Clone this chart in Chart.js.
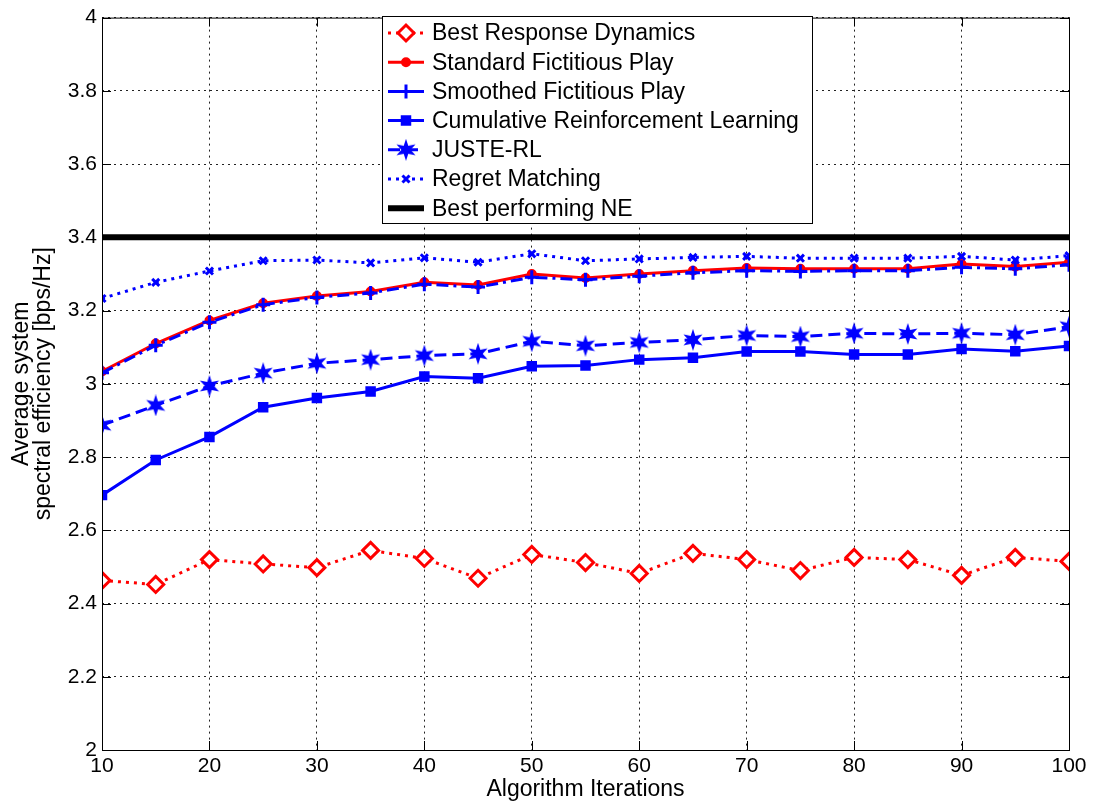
<!DOCTYPE html>
<html>
<head>
<meta charset="utf-8">
<script src="https://cdn.jsdelivr.net/npm/chart.js@4/dist/chart.umd.min.js"></script>
<style>
  body { margin: 0; background: #fff; }
  #wrap { width: 1094px; height: 805px; }
</style>
</head>
<body>
<div id="wrap"><canvas id="chart" width="1094" height="805"></canvas></div>
<script>
// datos
const iterations = [10, 15, 20, 25, 30, 35, 40, 45, 50, 55, 60, 65, 70, 75, 80, 85, 90, 95, 100];
const bestResponse = [2.463, 2.452, 2.52, 2.508, 2.498, 2.545, 2.523, 2.469, 2.534, 2.512, 2.482, 2.537, 2.52, 2.49, 2.526, 2.52, 2.477, 2.526, 2.515];
const standardFP = [3.034, 3.11, 3.173, 3.22, 3.24, 3.252, 3.277, 3.27, 3.3, 3.289, 3.3, 3.309, 3.316, 3.314, 3.314, 3.314, 3.327, 3.32, 3.332];
const smoothedFP = [3.03, 3.105, 3.168, 3.216, 3.236, 3.248, 3.272, 3.264, 3.291, 3.284, 3.294, 3.303, 3.309, 3.307, 3.309, 3.309, 3.318, 3.314, 3.325];
const cumulativeRL = [2.696, 2.792, 2.855, 2.936, 2.961, 2.979, 3.02, 3.015, 3.048, 3.05, 3.066, 3.071, 3.088, 3.088, 3.08, 3.08, 3.095, 3.089, 3.103];
const justeRL = [2.887, 2.941, 2.994, 3.029, 3.056, 3.066, 3.077, 3.082, 3.116, 3.104, 3.113, 3.12, 3.132, 3.129, 3.138, 3.136, 3.138, 3.134, 3.156];
const regretMatching = [3.233, 3.277, 3.308, 3.336, 3.338, 3.33, 3.344, 3.332, 3.355, 3.336, 3.341, 3.345, 3.348, 3.343, 3.343, 3.343, 3.348, 3.338, 3.35];
const bestNE = iterations.map(() => 3.4);
const xTicks = [10, 20, 30, 40, 50, 60, 70, 80, 90, 100];
const yTicks = [2, 2.2, 2.4, 2.6, 2.8, 3, 3.2, 3.4, 3.6, 3.8, 4];

const RED = "#ff0000";
const BLUE = "#0000ff";
const FONT = "'Liberation Sans', Arial, sans-serif";

// estrella de seis puntas (hexagram de MATLAB)
function hexagram(size, color) {
  const c = document.createElement("canvas");
  c.width = size;
  c.height = size;
  const g = c.getContext("2d");
  const cx = size / 2, cy = size / 2, ro = size / 2, ri = ro * 0.42;
  g.beginPath();
  for (let i = 0; i < 12; i++) {
    const a = -Math.PI / 2 + i * Math.PI / 6;
    const r = i % 2 === 0 ? ro : ri;
    const px = cx + r * Math.cos(a), py = cy + r * Math.sin(a);
    if (i === 0) g.moveTo(px, py); else g.lineTo(px, py);
  }
  g.closePath();
  g.fillStyle = color;
  g.fill();
  return c;
}
const starImg = hexagram(22, BLUE);

function serie(label, data, color, dash, style, radius, extra) {
  return Object.assign({
    label: label,
    data: iterations.map((x, i) => ({ x: x, y: data[i] })),
    borderColor: color,
    backgroundColor: color,
    borderWidth: 3,
    borderDash: dash,
    pointStyle: style,
    pointRadius: radius,
    pointBorderColor: color,
    pointBackgroundColor: color,
    pointBorderWidth: 2,
    tension: 0,
    fill: false,
  }, extra || {});
}

const datasets = [
  serie("Best Response Dynamics", bestResponse, RED, [3, 5], "rectRot", 8, { pointBackgroundColor: "#fff", pointBorderWidth: 3, order: 5 }),
  serie("Standard Fictitious Play", standardFP, RED, [], "circle", 4, { order: 4 }),
  serie("Smoothed Fictitious Play", smoothedFP, BLUE, [12, 5, 3, 5], "cross", 7, { pointBorderWidth: 3, order: 1 }),
  serie("Cumulative Reinforcement Learning", cumulativeRL, BLUE, [], "rect", 6, { order: 3 }),
  serie("JUSTE-RL", justeRL, BLUE, [12, 6], starImg, 11, { order: 2 }),
  serie("Regret Matching", regretMatching, BLUE, [3, 5], "crossRot", 5, { pointBorderWidth: 3, order: 2 }),
  serie("Best performing NE", bestNE, "#000", [], false, 0, { borderWidth: 6, order: 0 }),
];

// caja, ticks hacia dentro y leyenda estilo MATLAB
const matlabLook = {
  id: "matlabLook",
  afterDraw(chart) {
    const ctx = chart.ctx;
    const a = chart.chartArea;
    const xs = chart.scales.x, ys = chart.scales.y;
    ctx.save();
    ctx.strokeStyle = "#000";
    ctx.lineWidth = 1;
    ctx.setLineDash([]);
    ctx.strokeRect(a.left + 0.5, a.top + 0.5, a.right - a.left, a.bottom - a.top);
    ctx.beginPath();
    xTicks.forEach((v) => {
      const px = Math.round(xs.getPixelForValue(v)) + 0.5;
      ctx.moveTo(px, a.bottom); ctx.lineTo(px, a.bottom - 9);
      ctx.moveTo(px, a.top); ctx.lineTo(px, a.top + 9);
    });
    yTicks.forEach((v) => {
      const py = Math.round(ys.getPixelForValue(v)) + 0.5;
      ctx.moveTo(a.left, py); ctx.lineTo(a.left + 9, py);
      ctx.moveTo(a.right, py); ctx.lineTo(a.right - 9, py);
    });
    ctx.stroke();

    // leyenda
    const bx = 382, by = 16, bw = 430, bh = 207;
    ctx.fillStyle = "#fff";
    ctx.fillRect(bx, by, bw, bh);
    ctx.strokeRect(bx + 0.5, by + 0.5, bw, bh);
    ctx.font = "23px " + FONT;
    ctx.textBaseline = "middle";
    chart.data.datasets.forEach((ds, i) => {
      const ry = by + 17 + i * 29.2;
      const x0 = bx + 6, x1 = bx + 42;
      ctx.strokeStyle = ds.borderColor;
      ctx.lineWidth = ds.borderWidth;
      ctx.setLineDash(ds.borderDash);
      ctx.beginPath();
      ctx.moveTo(x0, ry); ctx.lineTo(x1, ry);
      ctx.stroke();
      ctx.setLineDash([]);
      if (ds.pointStyle) {
        ctx.strokeStyle = ds.pointBorderColor;
        ctx.fillStyle = ds.pointBackgroundColor;
        ctx.lineWidth = ds.pointBorderWidth;
        Chart.helpers.drawPoint(ctx, {
          pointStyle: ds.pointStyle,
          radius: ds.pointRadius,
          borderWidth: ds.pointBorderWidth,
          rotation: 0,
        }, (x0 + x1) / 2, ry);
      }
      ctx.fillStyle = "#000";
      ctx.fillText(ds.label, bx + 50, ry + 1);
    });
    ctx.restore();
  },
};

new Chart(document.getElementById("chart"), {
  type: "line",
  data: { datasets: datasets },
  options: {
    responsive: false,
    animation: false,
    devicePixelRatio: 1,
    layout: { padding: { top: 17, right: 25, left: 0, bottom: 0 } },
    plugins: { legend: { display: false }, tooltip: { enabled: false } },
    scales: {
      x: {
        type: "linear",
        min: 10,
        max: 100,
        afterBuildTicks: (s) => { s.ticks = xTicks.map((v) => ({ value: v })); },
        afterFit: (s) => { s.height = 55; },
        ticks: { color: "#000", font: { family: FONT, size: 21 }, padding: 4, maxRotation: 0 },
        grid: { color: "#222", lineWidth: 1, drawTicks: false },
        border: { display: false, dash: [2, 4] },
        title: { display: true, text: "Algorithm Iterations", color: "#000", font: { family: FONT, size: 23, lineHeight: 1.1 }, padding: { top: 0, bottom: 3 } },
      },
      y: {
        min: 2,
        max: 4,
        afterBuildTicks: (s) => { s.ticks = yTicks.map((v) => ({ value: v })); },
        afterFit: (s) => { s.width = 102; },
        ticks: { color: "#000", font: { family: FONT, size: 21 }, padding: 5, callback: (v) => String(Number(v.toFixed(1))) },
        grid: { color: "#222", lineWidth: 1, drawTicks: false },
        border: { display: false, dash: [2, 4] },
        title: { display: true, text: ["Average system", "spectral efficiency [bps/Hz]"], color: "#000", font: { family: FONT, size: 23, lineHeight: 0.95 }, padding: { top: 11, bottom: 0 } },
      },
    },
  },
  plugins: [matlabLook],
});
</script>
</body>
</html>
